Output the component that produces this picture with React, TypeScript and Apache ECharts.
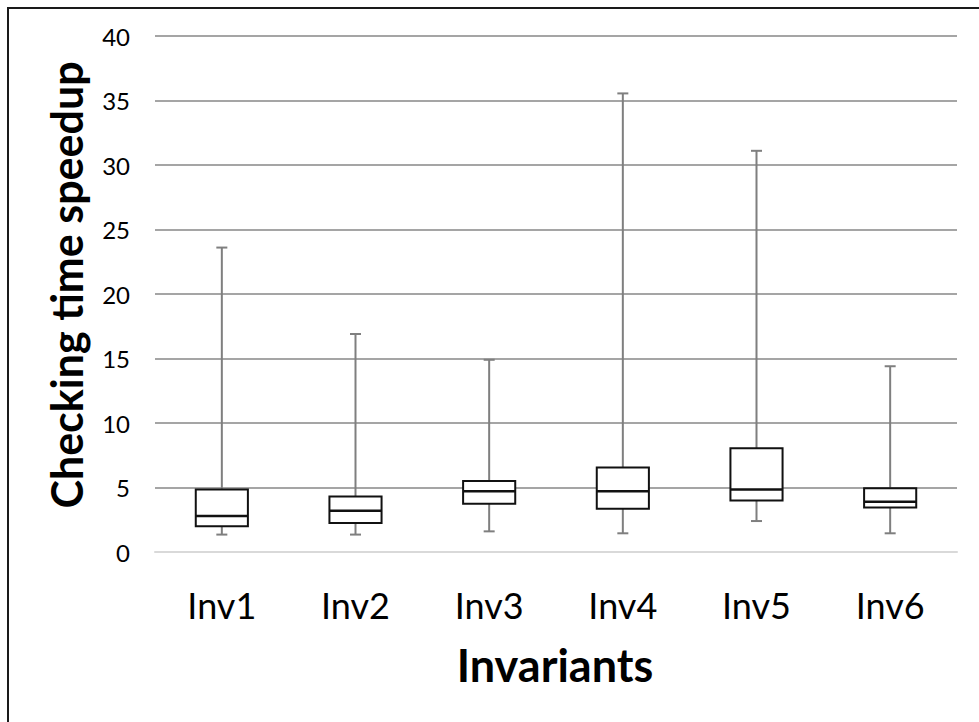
import React, { useEffect, useRef } from "react";
import * as echarts from "echarts";

const categories = ["Inv1", "Inv2", "Inv3", "Inv4", "Inv5", "Inv6"];
const minValues = [1.35, 1.35, 1.6, 1.45, 2.4, 1.45];
const q1Values = [2.0, 2.25, 3.75, 3.35, 4.0, 3.45];
const medianValues = [2.8, 3.2, 4.7, 4.7, 4.85, 3.9];
const q3Values = [4.85, 4.3, 5.5, 6.55, 8.05, 4.95];
const maxValues = [23.6, 16.9, 14.9, 35.55, 31.1, 14.4];
const yTicks = { min: 0, max: 40, interval: 5 };
const xTitle = "Invariants";
const yTitle = "Checking time speedup";

export default function App() {
  const ref = useRef<HTMLDivElement>(null);
  useEffect(() => {
    if (!ref.current) return;
    const chart = echarts.init(ref.current, null, { renderer: "svg" });
    const data = categories.map((_, i) => [
      i,
      minValues[i],
      q1Values[i],
      medianValues[i],
      q3Values[i],
      maxValues[i],
    ]);
    chart.setOption({
      animation: false,
      backgroundColor: "#fff",
      grid: { left: 155, right: 22, top: 36, bottom: 170 },
      xAxis: {
        type: "category",
        data: categories,
        axisTick: { show: false },
        axisLine: { show: true, lineStyle: { color: "#d9d9d9", width: 2 } },
        axisLabel: {
          margin: 35,
          fontFamily: "Lato",
          fontSize: 36,
          lineHeight: 36,
          color: "#000",
        },
        splitLine: { show: false },
      },
      yAxis: {
        type: "value",
        min: yTicks.min,
        max: yTicks.max,
        interval: yTicks.interval,
        axisLine: { show: false },
        axisTick: { show: false },
        axisLabel: {
          margin: 25,
          fontFamily: "Lato",
          fontSize: 24,
          color: "#000",
        },
        splitLine: { lineStyle: { color: "#878787", width: 1.5 } },
      },
      graphic: [
        {
          type: "rect",
          silent: true,
          shape: { x: 8, y: 8, width: 1200, height: 1200 },
          style: { fill: "none", stroke: "#1a1a1a", lineWidth: 2 },
        },
        {
          type: "text",
          x: 66,
          y: 285,
          rotation: Math.PI / 2,
          style: {
            text: yTitle,
            fontFamily: "Lato",
            fontWeight: "bold",
            fontSize: 43,
            fill: "#000",
            align: "center",
            verticalAlign: "middle",
          },
        },
        {
          type: "text",
          x: 555,
          y: 665,
          style: {
            text: xTitle,
            fontFamily: "Lato",
            fontWeight: "bold",
            fontSize: 45,
            fill: "#000",
            align: "center",
            verticalAlign: "middle",
          },
        },
      ],
      series: [
        {
          type: "custom",
          data,
          encode: { x: 0, y: [1, 2, 3, 4, 5] },
          renderItem: (params: any, api: any) => {
            const idx = api.value(0);
            const lo = api.coord([idx, api.value(1)]);
            const q1 = api.coord([idx, api.value(2)]);
            const med = api.coord([idx, api.value(3)]);
            const q3 = api.coord([idx, api.value(4)]);
            const hi = api.coord([idx, api.value(5)]);
            const band = api.size([1, 0])[0];
            const bw = band * 0.39;
            const cw = 11;
            const x = lo[0];
            const whisker = { stroke: "#7f7f7f", lineWidth: 2 };
            return {
              type: "group",
              children: [
                { type: "line", shape: { x1: x, y1: hi[1], x2: x, y2: lo[1] }, style: whisker },
                { type: "line", shape: { x1: x - cw / 2, y1: hi[1], x2: x + cw / 2, y2: hi[1] }, style: whisker },
                { type: "line", shape: { x1: x - cw / 2, y1: lo[1], x2: x + cw / 2, y2: lo[1] }, style: whisker },
                {
                  type: "rect",
                  shape: { x: x - bw / 2, y: q3[1], width: bw, height: q1[1] - q3[1] },
                  style: { fill: "#fff", stroke: "#111", lineWidth: 2 },
                },
                {
                  type: "line",
                  shape: { x1: x - bw / 2, y1: med[1], x2: x + bw / 2, y2: med[1] },
                  style: { stroke: "#111", lineWidth: 2.5 },
                },
              ],
            };
          },
        },
      ],
    });
    return () => chart.dispose();
  }, []);
  return (
    <div
      ref={ref}
      style={{ position: "absolute", left: 0, top: 0, width: 979, height: 722 }}
    />
  );
}
